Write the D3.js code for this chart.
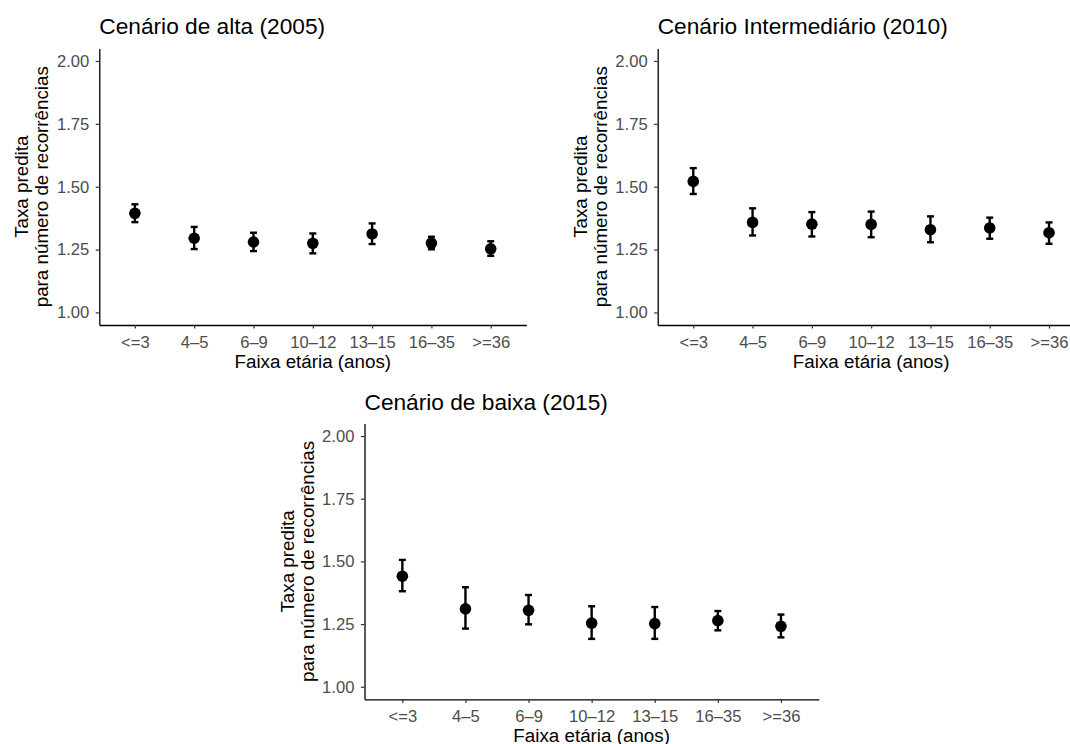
<!DOCTYPE html>
<html>
<head>
<meta charset="utf-8">
<script src="https://cdn.jsdelivr.net/npm/d3@7"></script>
<style>
  html, body { margin: 0; padding: 0; background: #ffffff; }
  svg { display: block; font-family: "Liberation Sans", Arial, Helvetica, sans-serif; }
</style>
</head>
<body>
<svg id="chart" width="1070" height="744"></svg>
<script>
// Age groups (x axis categories)
const categories = ["<=3", "4–5", "6–9", "10–12", "13–15", "16–35", ">=36"];
const yTicks = [1.00, 1.25, 1.50, 1.75, 2.00];

// Predicted rate and confidence limits, 2005 (high scenario)
const altaEst  = [1.394, 1.295, 1.280, 1.275, 1.312, 1.276, 1.253];
const altaLow  = [1.359, 1.252, 1.244, 1.235, 1.272, 1.251, 1.225];
const altaHigh = [1.430, 1.340, 1.317, 1.314, 1.354, 1.301, 1.283];

// 2010 (intermediate scenario)
const interEst  = [1.521, 1.358, 1.351, 1.350, 1.329, 1.336, 1.317];
const interLow  = [1.471, 1.306, 1.302, 1.299, 1.279, 1.293, 1.273];
const interHigh = [1.574, 1.414, 1.399, 1.401, 1.382, 1.377, 1.358];

// 2015 (low scenario)
const baixaEst  = [1.441, 1.311, 1.305, 1.254, 1.252, 1.264, 1.241];
const baixaLow  = [1.381, 1.232, 1.249, 1.191, 1.191, 1.225, 1.197];
const baixaHigh = [1.506, 1.397, 1.366, 1.321, 1.318, 1.302, 1.288];

const panelTitles = ["Cenário de alta (2005)", "Cenário Intermediário (2010)", "Cenário de baixa (2015)"];
const xTitle = "Faixa etária (anos)";
const yTitleLines = ["Taxa predita", "para número de recorrências"];

const panels = [
  { title: panelTitles[0], est: altaEst,  low: altaLow,  high: altaHigh,
    box: { left: 99.3,  right: 526.3,  top: 48.4,  bottom: 325.0 } },
  { title: panelTitles[1], est: interEst, low: interLow, high: interHigh,
    box: { left: 657.7, right: 1084.6, top: 48.4,  bottom: 325.0 } },
  { title: panelTitles[2], est: baixaEst, low: baixaLow, high: baixaHigh,
    box: { left: 364.5, right: 818.8,  top: 423.5, bottom: 699.3 } }
];

const svg = d3.select("#chart");
svg.append("rect").attr("width", 1070).attr("height", 744).attr("fill", "#ffffff");

const tickColor = "#333333";
const labelColor = "#4d4d4d";

panels.forEach(p => {
  const b = p.box;
  const g = svg.append("g");

  const x = d3.scalePoint().domain(categories).range([b.left, b.right]).padding(0.6);
  const y = d3.scaleLinear().domain([0.95, 2.05]).range([b.bottom, b.top]);

  // y axis
  const yAxis = d3.axisLeft(y).tickValues(yTicks).tickFormat(d3.format(".2f"))
    .tickSize(3.6).tickSizeOuter(0).tickPadding(6.5);
  const ya = g.append("g").attr("transform", `translate(${b.left},0)`).call(yAxis);

  // x axis
  const xAxis = d3.axisBottom(x).tickSize(3.6).tickSizeOuter(0).tickPadding(7.5);
  const xa = g.append("g").attr("transform", `translate(0,${b.bottom})`).call(xAxis);

  [ya, xa].forEach(a => {
    a.select(".domain").attr("stroke", "#000000").attr("stroke-width", 1.3);
    a.selectAll(".tick line").attr("stroke", tickColor).attr("stroke-width", 1.2);
    a.selectAll(".tick text").attr("fill", labelColor)
      .style("font-size", "16.6px").style("font-family", "'Liberation Sans', Arial, sans-serif");
  });

  // error bars
  const rows = categories.map((c, i) => ({ c, est: p.est[i], low: p.low[i], high: p.high[i] }));
  const eb = g.append("g").attr("stroke", "#000000").attr("stroke-width", 2.4).attr("fill", "none");
  eb.selectAll("line.v").data(rows).join("line").attr("class", "v")
    .attr("x1", d => x(d.c)).attr("x2", d => x(d.c))
    .attr("y1", d => y(d.low)).attr("y2", d => y(d.high));
  eb.selectAll("line.t").data(rows).join("line").attr("class", "t")
    .attr("x1", d => x(d.c) - 3.5).attr("x2", d => x(d.c) + 3.5)
    .attr("y1", d => y(d.high)).attr("y2", d => y(d.high));
  eb.selectAll("line.b").data(rows).join("line").attr("class", "b")
    .attr("x1", d => x(d.c) - 3.5).attr("x2", d => x(d.c) + 3.5)
    .attr("y1", d => y(d.low)).attr("y2", d => y(d.low));

  // points
  g.append("g").selectAll("circle").data(rows).join("circle")
    .attr("cx", d => x(d.c)).attr("cy", d => y(d.est)).attr("r", 5.8)
    .attr("fill", "#000000");

  // panel title
  g.append("text").attr("x", b.left).attr("y", b.top - 14)
    .attr("fill", "#000000").style("font-size", "22.7px").text(p.title);

  // x axis title
  g.append("text").attr("x", (b.left + b.right) / 2).attr("y", b.bottom + 43)
    .attr("text-anchor", "middle").attr("fill", "#000000").style("font-size", "18.8px")
    .text(xTitle);

  // y axis title (two lines)
  const cy = (b.top + b.bottom) / 2;
  yTitleLines.forEach((t, i) => {
    const bx = b.left - 71 + i * 20;
    g.append("text")
      .attr("transform", `translate(${bx},${cy}) rotate(-90)`)
      .attr("text-anchor", "middle").attr("fill", "#000000").style("font-size", "18.8px")
      .text(t);
  });
});
</script>
</body>
</html>
